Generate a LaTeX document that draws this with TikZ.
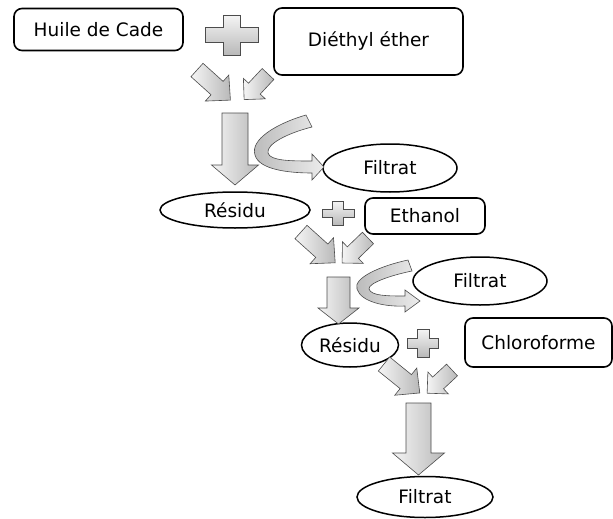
\documentclass[tikz,border=0pt]{standalone}
\usepackage{fontspec}
\setmainfont{DejaVu Sans}
\usetikzlibrary{shapes.geometric}
\tikzset{
  lbl/.style={font=\fontsize{18.5}{22}\selectfont},
  boxn/.style={draw=black, line width=1.6pt, rounded corners=8pt, inner sep=0pt, lbl},
  elln/.style={draw=black, line width=1.5pt, ellipse, inner sep=0pt, lbl},
  gshade/.style={draw=gray!60!black, line width=0.6pt, left color=gray!8, right color=gray!55},
  pshade/.style={draw=gray!60!black, line width=0.6pt, top color=gray!8, bottom color=gray!55},
  cshade/.style={draw=gray!60!black, line width=0.6pt, left color=gray!55, right color=gray!15},
}
% x, y (tail centre), angle, length, shaft half width, head half width, head length
\newcommand{\BlkArrow}[7]{%
  \draw[gshade, shift={(#1,#2)}, rotate=#3]
    (0,-#5) -- ({#4-#7},-#5) -- ({#4-#7},-#6) -- (#4,0) -- ({#4-#7},#6) -- ({#4-#7},#5) -- (0,#5) -- cycle;}
% x, y, half width, half height, vertical arm half width, horizontal arm half height
\newcommand{\PlusSign}[6]{%
  \draw[pshade, shift={(#1,#2)}]
    (-#5,-#4) -- (#5,-#4) -- (#5,-#6) -- (#3,-#6) -- (#3,#6) -- (#5,#6) -- (#5,#4)
    -- (-#5,#4) -- (-#5,#6) -- (-#3,#6) -- (-#3,-#6) -- (-#5,-#6) -- cycle;}
\begin{document}
\begin{tikzpicture}[x=1pt,y=-1pt]
\useasboundingbox (0,0) rectangle (613,519);
% boxes
\node[boxn, minimum width=169pt, minimum height=42pt] (huile) at (98.5,29.5) {Huile de Cade};
\node[boxn, minimum width=189pt, minimum height=67pt] (ether) at (368.5,41.5) {Diéthyl éther};
\node[boxn, minimum width=120pt, minimum height=36pt] (ethanol) at (425,216) {Ethanol};
\node[boxn, minimum width=147pt, minimum height=49pt] (chloro) at (538.5,342.5) {Chloroforme};
% ellipses
\node[elln, minimum width=134pt, minimum height=48pt] (filtrat1) at (390,168) {Filtrat};
\node[elln, minimum width=150pt, minimum height=36pt] (residu1) at (235,210) {Résidu};
\node[elln, minimum width=134pt, minimum height=48pt] (filtrat2) at (480,281) {Filtrat};
\node[elln, minimum width=97pt, minimum height=44pt] (residu2) at (350,345) {Résidu};
\node[elln, minimum width=136pt, minimum height=41pt] (filtrat3) at (425,497) {Filtrat};
% plus signs
\PlusSign{231.5}{35}{26.5}{20}{8.5}{7.5}
\PlusSign{338}{213}{16}{12}{5.5}{4}
\PlusSign{423}{343}{15.5}{14}{6}{5}
% converging arrows
\BlkArrow{197}{70}{-42}{45}{9}{17.5}{18}
\BlkArrow{268}{74}{-133}{35}{8}{15}{15}
\BlkArrow{301}{232}{-42}{46}{9}{17.5}{18}
\BlkArrow{368}{238}{-136}{36}{8}{15}{15}
\BlkArrow{384}{364}{-39}{46}{9}{17.5}{18}
\BlkArrow{452}{370}{-137}{34}{8}{15}{15}
% down arrows
\BlkArrow{235}{113}{-90}{72}{13}{23.5}{20}
\BlkArrow{338.5}{277}{-90}{47}{11.5}{20.5}{16}
\BlkArrow{418.5}{403}{-90}{72}{12.5}{26}{22}
% curved arrows
\draw[cshade] (306,115) .. controls (275,124) and (250,140) .. (255,155)
  .. controls (259,170) and (290,173) .. (312,173) -- (312,180) -- (324,167) -- (312,154) -- (312,161)
  .. controls (292,161) and (270,161) .. (268,153) .. controls (266,144) and (288,133) .. (312,127) -- cycle;
\draw[cshade] (408,260) .. controls (380,266) and (353,278) .. (357,289)
  .. controls (361,302) and (385,307) .. (405,306) -- (405,312) -- (420,301) -- (405,290) -- (405,296)
  .. controls (388,296) and (371,296) .. (369,289) .. controls (368,283) and (392,275) .. (412,271) -- cycle;
\end{tikzpicture}
\end{document}
